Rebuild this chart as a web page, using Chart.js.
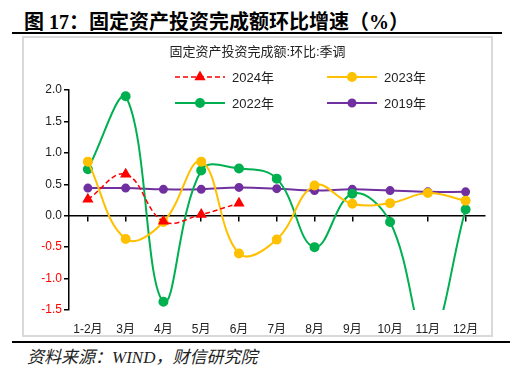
<!DOCTYPE html>
<html>
<head>
<meta charset="utf-8">
<script src="https://cdn.jsdelivr.net/npm/chart.js@4.4.1/dist/chart.umd.min.js"></script>
<style>
  body { margin: 0; background: #fff; width: 531px; height: 376px; position: relative; overflow: hidden; }
  .titulo { position: absolute; left: 24px; top: 6px; font: bold 20px "Liberation Serif", "Noto Sans CJK SC", serif; color: #000; white-space: nowrap; }
  .linea { position: absolute; left: 12px; width: 490px; height: 2px; background: #000; }
  .caja { position: absolute; left: 22px; top: 36px; width: 467px; height: 297px; border: 2px solid #d9d9d9; }
  .fuente { position: absolute; left: 27px; top: 343px; font: italic 17px "Liberation Serif", "Noto Sans CJK SC", serif; color: #222; white-space: nowrap; }
</style>
</head>
<body>
<div class="titulo">图 17：固定资产投资完成额环比增速（%）</div>
<div class="linea" style="top:32px"></div>
<div class="caja"><canvas class="grafico" width="467" height="297"></canvas></div>
<div class="linea" style="top:341px;width:498px"></div>
<div class="fuente">资料来源：WIND，财信研究院</div>
<script>
const canvas = document.querySelector(".grafico");

const meses = ["1-2月", "3月", "4月", "5月", "6月", "7月", "8月", "9月", "10月", "11月", "12月"];
const serie2024 = [0.26, 0.66, -0.09, 0.02, 0.20, null, null, null, null, null, null];
const serie2023 = [0.86, -0.37, -0.10, 0.86, -0.60, -0.38, 0.48, 0.19, 0.20, 0.36, 0.24];
const serie2022 = [0.74, 1.90, -1.37, 0.72, 0.75, 0.59, -0.50, 0.35, -0.10, -2.00, 0.10];
const serie2019 = [0.44, 0.44, 0.42, 0.42, 0.45, 0.43, 0.40, 0.42, 0.40, 0.38, 0.38];
const tituloInterno = "固定资产投资完成额:环比:季调";

const fuenteEje = "'Liberation Sans', 'Noto Sans CJK SC', sans-serif";

// leyenda 2x2 y titulo interno
const leyenda = {
  id: "leyenda",
  afterDraw(chart) {
    const ctx = chart.ctx;
    ctx.save();
    ctx.fillStyle = "#222";
    ctx.font = "13px " + fuenteEje;
    ctx.textAlign = "center";
    ctx.textBaseline = "middle";
    ctx.fillText(tituloInterno, chart.width / 2, 14);
    chart.data.datasets.forEach((ds, i) => {
      const col = i % 2;
      const fila = Math.floor(i / 2);
      const x0 = 151 + col * 152;
      const y = 39 + fila * 26;
      ctx.strokeStyle = ds.borderColor;
      ctx.lineWidth = ds.borderWidth;
      ctx.setLineDash(ds.borderDash || []);
      ctx.beginPath();
      ctx.moveTo(x0, y);
      ctx.lineTo(x0 + 50, y);
      ctx.stroke();
      ctx.setLineDash([]);
      ctx.fillStyle = ds.pointBackgroundColor;
      Chart.helpers.drawPoint(ctx, {
        pointStyle: ds.pointStyle,
        radius: ds.pointRadius,
        rotation: 0,
        borderWidth: 1
      }, x0 + 25, y);
      ctx.fillStyle = "#222";
      ctx.textAlign = "left";
      ctx.fillText(ds.label, x0 + 57, y + 1);
    });
    ctx.restore();
  }
};

const config = {
  type: "line",
  data: {
    labels: meses,
    datasets: [
      { label: "2024年", data: serie2024, borderColor: "#ff0000", backgroundColor: "#ff0000",
        pointBackgroundColor: "#ff0000", pointBorderColor: "#ff0000", pointStyle: "triangle",
        pointRadius: 5, borderWidth: 1.5, borderDash: [5, 3], tension: 0.4 },
      { label: "2023年", data: serie2023, borderColor: "#ffc000", backgroundColor: "#ffc000",
        pointBackgroundColor: "#ffc000", pointBorderColor: "#ffc000", pointStyle: "circle",
        pointRadius: 4, borderWidth: 2, tension: 0.4 },
      { label: "2022年", data: serie2022, borderColor: "#00b050", backgroundColor: "#00b050",
        pointBackgroundColor: "#00b050", pointBorderColor: "#00b050", pointStyle: "circle",
        pointRadius: 4, borderWidth: 2, tension: 0.4 },
      { label: "2019年", data: serie2019, borderColor: "#7030a0", backgroundColor: "#7030a0",
        pointBackgroundColor: "#7030a0", pointBorderColor: "#7030a0", pointStyle: "circle",
        pointRadius: 3.5, borderWidth: 2, tension: 0.4 }
    ]
  },
  options: {
    responsive: false,
    animation: false,
    layout: { padding: { top: 52, right: 3, left: 0, bottom: 0 } },
    plugins: { legend: { display: false }, tooltip: { enabled: false } },
    scales: {
      x: {
        type: "category",
        position: { y: 0 },
        offset: true,
        ticks: { display: false },
        grid: { drawOnChartArea: false, drawTicks: true, tickLength: 5, color: "#000", lineWidth: 1.5 },
        border: { color: "#000", width: 1.5 }
      },
      x2: {
        type: "category",
        labels: meses,
        position: "bottom",
        offset: true,
        grid: { display: false },
        border: { display: false },
        ticks: { padding: 4, color: "#222", font: { size: 12, family: fuenteEje }, maxRotation: 0, autoSkip: false },
        afterFit(scale) { scale.height = 25; }
      },
      y: {
        min: -1.5,
        max: 2.0,
        ticks: {
          stepSize: 0.5,
          padding: 2,
          font: { size: 12, family: fuenteEje },
          color: (c) => c.tick.value < 0 ? "#ff0000" : "#222",
          callback: (v) => Number(v).toFixed(1)
        },
        grid: { drawOnChartArea: false, drawTicks: true, tickLength: 5, color: "#000", lineWidth: 1.5 },
        border: { color: "#000", width: 1.5 },
        afterFit(scale) { scale.width = 45; }
      }
    }
  },
  plugins: [leyenda]
};

new Chart(canvas, config);
</script>
</body>
</html>
